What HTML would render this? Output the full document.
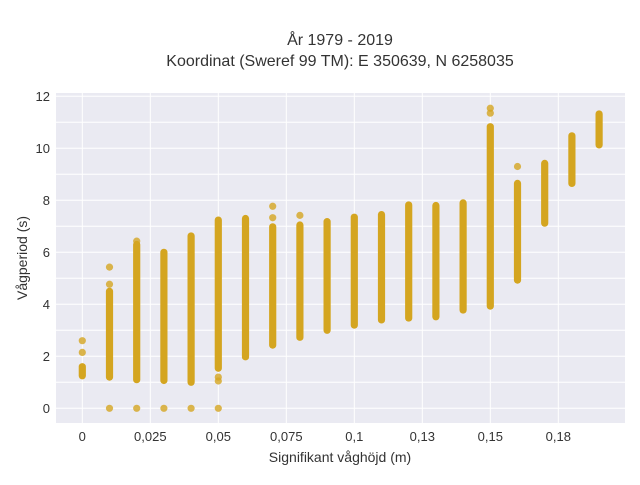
<!DOCTYPE html>
<html><head><meta charset="utf-8"><style>
body{margin:0;background:#fff;}
svg text{font-family:"Liberation Sans",sans-serif;fill:#333;}
</style></head><body>
<svg id="chart" width="640" height="480" xmlns="http://www.w3.org/2000/svg">
<rect x="56" y="93" width="569" height="330" fill="#eaeaf2"/>
<g id="grid"></g>
<g id="marks"></g>
<g id="axes"></g>
<text x="340" y="45" text-anchor="middle" font-size="16">År 1979 - 2019</text>
<text x="340" y="66" text-anchor="middle" font-size="16">Koordinat (Sweref 99 TM): E 350639, N 6258035</text>
<text x="340" y="462" text-anchor="middle" font-size="14">Signifikant våghöjd (m)</text>
<text transform="translate(27,258) rotate(-90)" text-anchor="middle" font-size="14">Vågperiod (s)</text>
</svg>
<script>
const xs=[0,0.01,0.02,0.03,0.04,0.05,0.06,0.07,0.08,0.09,0.10,0.11,0.12,0.13,0.14,0.15,0.16,0.17,0.18,0.19];
const lows=[1.25,1.2,1.1,1.07,1.0,1.54,1.98,2.43,2.73,3.0,3.2,3.4,3.47,3.52,3.78,3.93,4.93,7.12,8.65,10.13];
const highs=[1.6,4.5,6.3,6.0,6.63,7.24,7.3,6.98,7.05,7.18,7.35,7.45,7.82,7.8,7.9,10.83,8.65,9.42,10.48,11.32];
const outX=[0,0,0.01,0.01,0.01,0.02,0.02,0.03,0.04,0.05,0.05,0.05,0.07,0.07,0.08,0.15,0.15,0.16];
const outY=[2.6,2.15,4.77,5.43,0,6.43,0,0,0,1.2,1.05,0,7.33,7.77,7.42,11.54,11.35,9.3];
const xTicks=[0,0.025,0.05,0.075,0.1,0.125,0.15,0.175];
const xTickLabels=["0","0,025","0,05","0,075","0,1","0,13","0,15","0,18"];
const yTicks=[0,2,4,6,8,10,12];
const yGrid=[0,1,2,3,4,5,6,7,8,9,10,11,12];
const NS="http://www.w3.org/2000/svg";
const X=v=>82.3+v*2720;
const Y=v=>408.3-v*26;
const C="#d4a520";
const grid=document.getElementById('grid'),marks=document.getElementById('marks'),axes=document.getElementById('axes');
function mk(tag,a,p){const e=document.createElementNS(NS,tag);for(const k in a)e.setAttribute(k,a[k]);p.appendChild(e);return e;}
yGrid.forEach(v=>{const l=mk('line',{x1:56,x2:625,y1:Y(v),y2:Y(v),stroke:'#fff','stroke-width':1},grid);

});
xTicks.forEach((v,i)=>{const l=mk('line',{x1:X(v),x2:X(v),y1:93,y2:423,stroke:'#fff','stroke-width':1},grid);


const t=mk('text',{x:X(v),y:441,'text-anchor':'middle','font-size':13},axes);t.textContent=xTickLabels[i];

});
yTicks.forEach(v=>{const t=mk('text',{x:50,y:Y(v)+4.5,'text-anchor':'end','font-size':13},axes);t.textContent=String(v);

});
xs.forEach((v,i)=>{const r=3.6;const top=Y(highs[i])-r,bot=Y(lows[i])+r;
const b=mk('rect',{x:X(v)-r,y:top,width:2*r,height:bot-top,rx:r,ry:r,fill:C},marks);

});
outX.forEach((v,i)=>{const c=mk('circle',{cx:X(v),cy:Y(outY[i]),r:3.6,fill:C,opacity:0.8},marks);

});
</script>
</body></html>
